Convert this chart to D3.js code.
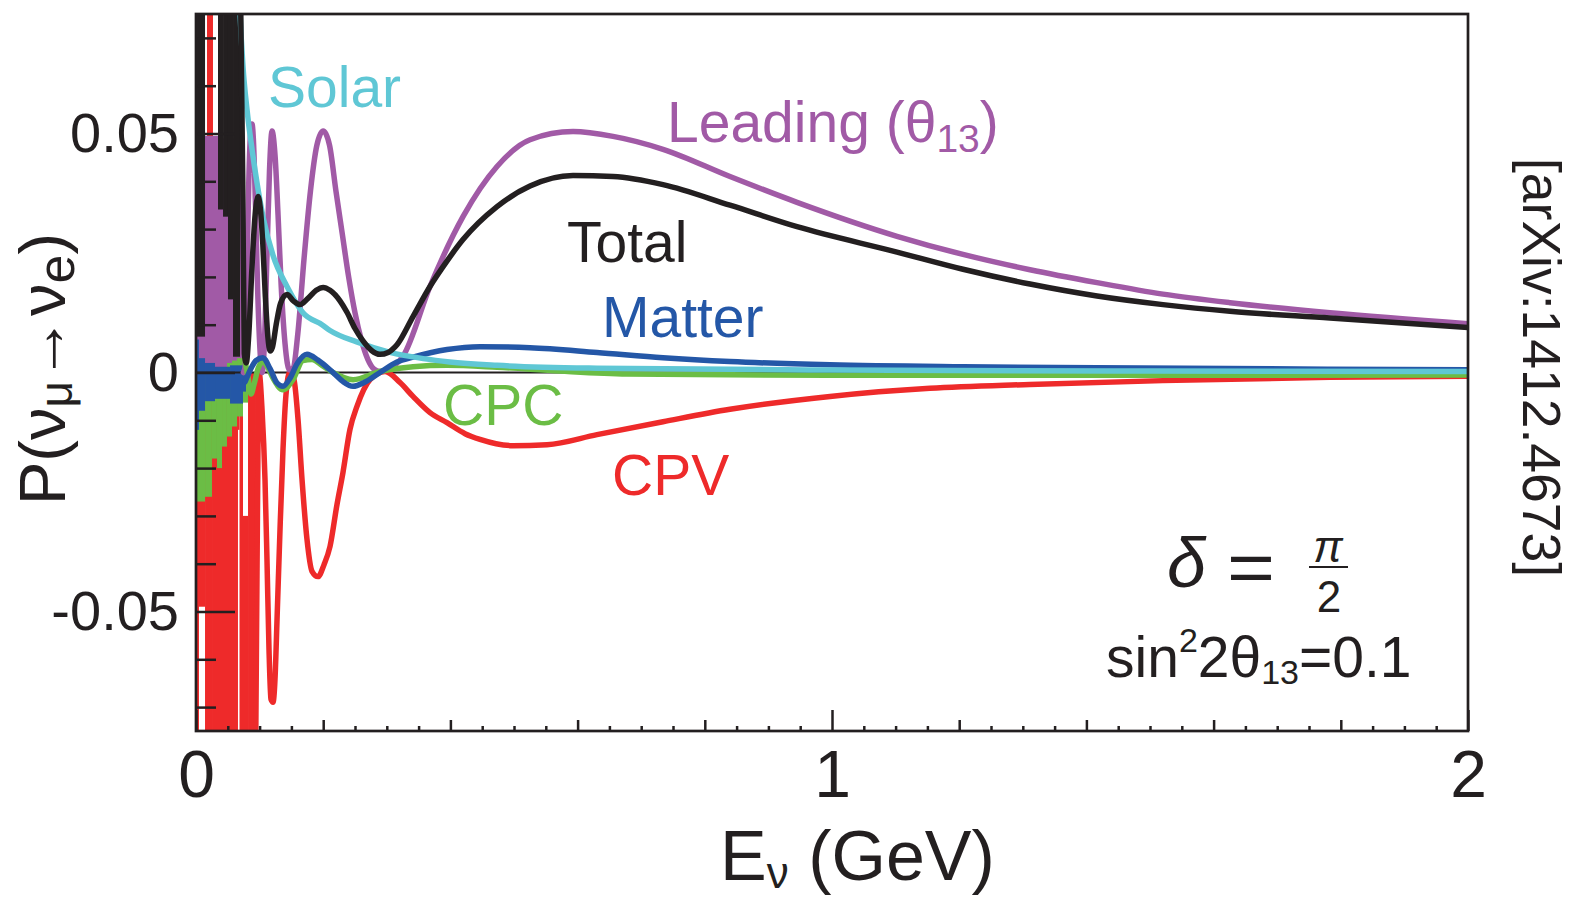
<!DOCTYPE html>
<html>
<head>
<meta charset="utf-8">
<script src="https://cdn.jsdelivr.net/npm/d3@7"></script>
<style>
  html, body { margin: 0; padding: 0; background: #fff; }
  svg { display: block; }
  text { font-family: "Liberation Sans", Arial, Helvetica, sans-serif; fill: #231f20; }
</style>
</head>
<body>
<svg id="chart" width="1572" height="900"></svg>
<script>
// ── data: [E (GeV), P] ──────────────────────────────────────────────
const leadingLine = [
  [0.0745, 0.000], [0.0770, 0.001], [0.0800, 0.020], [0.0830, 0.040], [0.0860, 0.0505],
  [0.0880, 0.052], [0.0905, 0.048], [0.0935, 0.035], [0.0970, 0.017], [0.1005, 0.005],
  [0.1040, 0.000], [0.1075, 0.006], [0.1115, 0.024], [0.1155, 0.042], [0.1195, 0.0505],
  [0.1245, 0.045], [0.1290, 0.033], [0.1340, 0.018], [0.1400, 0.006], [0.1470, 0.0005],
  [0.1530, 0.001], [0.1600, 0.008], [0.1700, 0.024], [0.1800, 0.038], [0.1900, 0.0475],
  [0.2000, 0.0505], [0.2100, 0.0475], [0.2200, 0.038], [0.2300, 0.029], [0.2400, 0.020],
  [0.2500, 0.0125], [0.2600, 0.0068], [0.2700, 0.0028], [0.2800, 0.0007], [0.2893, 0.0002],
  [0.3000, 0.0006], [0.3255, 0.0034], [0.3679, 0.0180], [0.4198, 0.0326], [0.4733, 0.0431],
  [0.5252, 0.0487], [0.5928, 0.0504], [0.6557, 0.0494], [0.7343, 0.0467], [0.8396, 0.0410],
  [0.9450, 0.0356], [1.1022, 0.0285], [1.2060, 0.0247], [1.3113, 0.0215], [1.4167, 0.0188],
  [1.5204, 0.0164], [1.6258, 0.0146], [1.7830, 0.0125], [2.0000, 0.0102]
];
const totalLine = [
  [0.0700, 0.080], [0.0735, 0.040], [0.0760, 0.004], [0.0790, 0.002], [0.0830, 0.008],
  [0.0880, 0.022], [0.0930, 0.033], [0.0975, 0.0368], [0.1010, 0.0345], [0.1050, 0.027],
  [0.1090, 0.016], [0.1130, 0.0075], [0.1165, 0.0045], [0.1200, 0.0052], [0.1260, 0.0100],
  [0.1330, 0.0145], [0.1431, 0.0163], [0.1530, 0.0150], [0.1635, 0.0142], [0.1760, 0.0155],
  [0.1890, 0.0172], [0.2000, 0.0178], [0.2107, 0.0172], [0.2264, 0.0150], [0.2374, 0.0126],
  [0.2500, 0.0092], [0.2626, 0.0066], [0.2760, 0.0046], [0.2893, 0.0038], [0.3020, 0.0042],
  [0.3160, 0.0058], [0.3412, 0.0117], [0.3679, 0.0180], [0.3940, 0.0232], [0.4198, 0.0278],
  [0.4733, 0.0347], [0.5252, 0.0390], [0.5928, 0.0412], [0.6557, 0.0410], [0.7343, 0.0393],
  [0.8396, 0.0350], [0.9450, 0.0305], [1.1022, 0.0252], [1.2060, 0.0216], [1.3113, 0.0185],
  [1.4167, 0.0160], [1.5204, 0.0142], [1.6258, 0.0128], [1.7830, 0.0114], [2.0000, 0.0094]
];
const solarLine = [
  [0.0680, 0.080], [0.0692, 0.0755], [0.0739, 0.064], [0.0802, 0.055], [0.0881, 0.0467],
  [0.0959, 0.0397], [0.1053, 0.0326], [0.1211, 0.0245], [0.1431, 0.0180], [0.1682, 0.0125],
  [0.1981, 0.0100], [0.2107, 0.0088], [0.2527, 0.0064], [0.3050, 0.0042], [0.3574, 0.0029],
  [0.3990, 0.0022], [0.4733, 0.0015], [0.6305, 0.0009], [0.9969, 0.0005], [1.5000, 0.0003],
  [2.0000, 0.0002]
];
const matterLine = [
  [0.0770, -0.002], [0.0818, -0.0005], [0.0870, 0.001], [0.0943, 0.0025], [0.1053, 0.0031],
  [0.1164, 0.0008], [0.1274, -0.0022], [0.1368, -0.0029], [0.1478, -0.0012], [0.1588, 0.0018],
  [0.1745, 0.0038], [0.1918, 0.0026], [0.2154, 0.0000], [0.2311, -0.0019], [0.2469, -0.0029],
  [0.2657, -0.0020], [0.2893, 0.0000], [0.3160, 0.0022], [0.3412, 0.0032], [0.3947, 0.0048],
  [0.4465, 0.0054], [0.5252, 0.0052], [0.6305, 0.0042], [0.7343, 0.0031], [0.8396, 0.0023],
  [0.9969, 0.0016], [1.2060, 0.0012], [1.4167, 0.0010], [1.7830, 0.0007], [2.0000, 0.0006]
];
const cpcLine = [
  [0.0770, 0.0025], [0.0818, -0.001], [0.0865, -0.0045], [0.0912, -0.0025], [0.0975, 0.0008],
  [0.1053, 0.0023], [0.1132, 0.0010], [0.1211, -0.0012], [0.1368, -0.0036], [0.1525, -0.0015],
  [0.1682, 0.0025], [0.1824, 0.0027], [0.1981, 0.0015], [0.2154, 0.0000], [0.2469, -0.0015],
  [0.2893, 0.0002], [0.3412, 0.0012], [0.3947, 0.0015], [0.4733, 0.0011], [0.5723, 0.0003],
  [0.6777, -0.0003], [0.9969, -0.0006], [1.5000, -0.0006], [2.0000, -0.0005]
];
const cpvLine = [
  [0.0935, -0.085], [0.0966, -0.030], [0.0990, 0.0002], [0.1038, -0.0077], [0.1085, -0.0224],
  [0.1116, -0.0391], [0.1148, -0.0580], [0.1179, -0.0684], [0.1211, -0.0690], [0.1242, -0.0642],
  [0.1274, -0.0517], [0.1321, -0.0328], [0.1368, -0.0161], [0.1415, -0.0046], [0.1478, 0.0002],
  [0.1541, -0.0015], [0.1604, -0.0098], [0.1667, -0.0224], [0.1745, -0.0349], [0.1824, -0.0416],
  [0.1918, -0.0427], [0.2013, -0.0402], [0.2107, -0.0364], [0.2217, -0.0276], [0.2311, -0.0209],
  [0.2421, -0.0119], [0.2531, -0.0071], [0.2736, -0.0015], [0.2972, 0.0002], [0.3208, -0.0021],
  [0.3412, -0.0050], [0.3679, -0.0084], [0.3947, -0.0105], [0.4230, -0.0128], [0.4465, -0.0140],
  [0.4984, -0.0153], [0.5519, -0.0151], [0.6305, -0.0130], [0.7343, -0.0103], [0.8396, -0.0077],
  [0.9969, -0.0050], [1.1540, -0.0033], [1.3110, -0.0025], [1.5200, -0.0017], [1.7830, -0.0010],
  [2.0000, -0.0008]
];

// low-energy region: fast oscillations drawn as solid blocks, [E0, E1, Plo, Phi]
const cpvCols = [
  [0.0016, 0.0047, -0.08, 0], [0.0047, 0.0142, -0.049, 0], [0.0142, 0.0173, -0.08, 0],
  [0.0173, 0.0267, -0.08, 0.08], [0.0267, 0.0660, -0.08, 0], [0.0660, 0.0684, -0.012, 0],
  [0.0684, 0.0739, -0.08, 0], [0.0739, 0.0818, -0.08, -0.03], [0.0739, 0.0818, -0.004, 0],
  [0.0818, 0.0943, -0.08, 0]
];
const leadingCols = [
  [0.0000, 0.0047, 0, 0.043], [0.0047, 0.0346, 0, 0.0495], [0.0346, 0.0660, 0, 0.049],
  [0.0660, 0.0739, 0, 0.045]
];
const cpcCols = [
  [0.0016, 0.0142, -0.027, 0], [0.0142, 0.0251, -0.026, 0], [0.0251, 0.0330, -0.018, 0],
  [0.0330, 0.0409, -0.020, 0], [0.0409, 0.0487, -0.0155, 0.001], [0.0487, 0.0566, -0.0134, 0.002],
  [0.0566, 0.0645, -0.0113, 0.0025], [0.0645, 0.0739, -0.0092, 0.003], [0.0739, 0.0818, -0.0063, 0.0033]
];
const matterCols = [
  [0.0000, 0.0047, -0.012, 0.0069], [0.0047, 0.0142, -0.008, 0.003], [0.0142, 0.0299, -0.006, 0.002],
  [0.0299, 0.0535, -0.0055, 0.0012], [0.0535, 0.0739, -0.0065, 0.0015], [0.0739, 0.0786, -0.004, 0.001]
];
const solarCols = [];
const totalCols = [
  [0.0016, 0.0142, 0.0075, 0.08], [0.0346, 0.0425, 0.0341, 0.08], [0.0425, 0.0503, 0.0326, 0.08],
  [0.0503, 0.0582, 0.0153, 0.08], [0.0582, 0.0692, 0.0033, 0.08]
];

const xMajorTicks = [0, 1, 2];
const xMajorLabels = ["0", "1", "2"];
const xMidTicks = [0.2, 0.4, 0.6, 0.8, 1.2, 1.4, 1.6, 1.8];
const xMinorTicks = d3.range(1, 40).map(i => i * 0.05).filter(v => Math.abs(v * 5 - Math.round(v * 5)) > 1e-6);
const yMajorTicks = [-0.05, 0, 0.05];
const yMajorLabels = ["-0.05", "0", "0.05"];
const yMinorTicks = [-0.07, -0.06, -0.04, -0.03, -0.02, -0.01, 0.01, 0.02, 0.03, 0.04, 0.06, 0.07];

const COLORS = {
  cpv: "#ee2a2a", leading: "#a15aa6", cpc: "#6bbd45",
  matter: "#2457a7", solar: "#5fc7d5", total: "#231f20"
};
const INK = "#231f20";

// ── scales ──────────────────────────────────────────────────────────
const x = d3.scaleLinear().domain([0, 2]).range([196, 1468]);
const y = d3.scaleLinear().domain([-0.075, 0.075]).range([731, 14]);
const [xL, xR] = x.range(), [yB, yT] = y.range();

const svg = d3.select("#chart");
svg.append("defs").append("clipPath").attr("id", "plotclip")
  .append("rect").attr("x", xL).attr("y", yT).attr("width", xR - xL).attr("height", yB - yT);

const plot = svg.append("g").attr("clip-path", "url(#plotclip)");

// drawing order = layering in the reference
const series = [
  { cols: cpvCols,     line: cpvLine,     color: COLORS.cpv },
  { cols: leadingCols, line: leadingLine, color: COLORS.leading },
  { cols: cpcCols,     line: cpcLine,     color: COLORS.cpc },
  { cols: matterCols,  line: matterLine,  color: COLORS.matter },
  { cols: solarCols,   line: solarLine,   color: COLORS.solar },
  { cols: totalCols,   line: totalLine,   color: COLORS.total }
];

series.forEach(s => {
  plot.append("g").selectAll("rect").data(s.cols).join("rect")
    .attr("x", d => x(d[0])).attr("width", d => x(d[1]) - x(d[0]))
    .attr("y", d => y(d[3])).attr("height", d => y(d[2]) - y(d[3]))
    .attr("fill", s.color);
});

// zero line
plot.append("line")
  .attr("x1", xL).attr("x2", xR).attr("y1", y(0)).attr("y2", y(0))
  .attr("stroke", INK).attr("stroke-width", 2.2);

const lineGen = d3.line().x(d => x(d[0])).y(d => y(d[1])).curve(d3.curveMonotoneX);
series.forEach(s => {
  plot.append("path").datum(s.line).attr("d", lineGen)
    .attr("fill", "none").attr("stroke", s.color).attr("stroke-width", 5.5)
    .attr("stroke-linejoin", "round").attr("stroke-linecap", "round");
});

// ── axes (ticks point inward, ROOT style) ───────────────────────────
function styleAxis(sel) {
  sel.select(".domain").remove();
  sel.selectAll("line").attr("stroke", INK).attr("stroke-width", 2.5);
  sel.selectAll("text").attr("fill", INK).attr("font-family", '"Liberation Sans", Arial, sans-serif');
}
svg.append("g").attr("transform", `translate(${xL},0)`)
  .call(d3.axisLeft(y).tickValues(yMinorTicks).tickSize(-20).tickFormat(""))
  .call(styleAxis);
svg.append("g").attr("transform", `translate(${xL},0)`)
  .call(d3.axisLeft(y).tickValues(yMajorTicks).tickSize(-39).tickPadding(17)
    .tickFormat((d, i) => yMajorLabels[i]))
  .call(styleAxis)
  .selectAll("text").attr("font-size", 56);

svg.append("g").attr("transform", `translate(0,${yB})`)
  .call(d3.axisBottom(x).tickValues(xMinorTicks).tickSize(-5).tickFormat(""))
  .call(styleAxis);
svg.append("g").attr("transform", `translate(0,${yB})`)
  .call(d3.axisBottom(x).tickValues(xMidTicks).tickSize(-11).tickFormat(""))
  .call(styleAxis);
svg.append("g").attr("transform", `translate(0,${yB})`)
  .call(d3.axisBottom(x).tickValues(xMajorTicks).tickSize(-21).tickPadding(19)
    .tickFormat((d, i) => xMajorLabels[i]))
  .call(styleAxis)
  .selectAll("text").attr("font-size", 66);

// frame
svg.append("rect").attr("x", xL).attr("y", yT).attr("width", xR - xL).attr("height", yB - yT)
  .attr("fill", "none").attr("stroke", INK).attr("stroke-width", 2.7);

// ── axis titles ─────────────────────────────────────────────────────
const xt = svg.append("text").attr("x", 720).attr("y", 880).attr("font-size", 70);
xt.append("tspan").text("E");
xt.append("tspan").attr("font-size", 44).attr("dy", 8).text("ν");
xt.append("tspan").attr("dy", -8).text(" (GeV)");

const yt = svg.append("text").attr("transform", "translate(65,505) rotate(-90)").attr("font-size", 65);
yt.append("tspan").text("P(ν");
yt.append("tspan").attr("font-size", 46).attr("dy", 7).text("μ");
yt.append("tspan").attr("dy", -7).text("→ν");
yt.append("tspan").attr("font-size", 52).attr("dy", 9).text("e");
yt.append("tspan").attr("dy", -9).text(")");

// ── curve labels ────────────────────────────────────────────────────
const LABEL_FS = 57;
svg.append("text").attr("x", 268).attr("y", 107).attr("font-size", LABEL_FS)
  .style("fill", COLORS.solar).text("Solar");
const lead = svg.append("text").attr("x", 667).attr("y", 142).attr("font-size", LABEL_FS)
  .style("fill", COLORS.leading);
lead.append("tspan").text("Leading (θ");
lead.append("tspan").attr("font-size", 39).attr("dy", 10).text("13");
lead.append("tspan").attr("dy", -10).text(")");
svg.append("text").attr("x", 567).attr("y", 262).attr("font-size", LABEL_FS)
  .style("fill", COLORS.total).text("Total");
svg.append("text").attr("x", 602).attr("y", 337).attr("font-size", LABEL_FS)
  .style("fill", COLORS.matter).text("Matter");
svg.append("text").attr("x", 443).attr("y", 425).attr("font-size", LABEL_FS)
  .style("fill", COLORS.cpc).text("CPC");
svg.append("text").attr("x", 612).attr("y", 495).attr("font-size", LABEL_FS)
  .style("fill", COLORS.cpv).text("CPV");

// δ = π/2  (LaTeX look)
const serif = '"Liberation Serif", "DejaVu Serif", serif';
svg.append("text").attr("x", 1167).attr("y", 587).attr("font-size", 70)
  .attr("font-family", serif).attr("font-style", "italic").text("δ");
svg.append("text").attr("x", 1227).attr("y", 592).attr("font-size", 72)
  .attr("font-family", serif).attr("textLength", 48).attr("lengthAdjust", "spacingAndGlyphs").text("=");
svg.append("text").attr("x", 1328).attr("y", 562).attr("font-size", 44).attr("text-anchor", "middle")
  .attr("font-family", serif).attr("font-style", "italic").text("π");
svg.append("line").attr("x1", 1309).attr("x2", 1348).attr("y1", 567).attr("y2", 567)
  .attr("stroke", INK).attr("stroke-width", 2);
svg.append("text").attr("x", 1329).attr("y", 612).attr("font-size", 44).attr("text-anchor", "middle")
  .attr("font-family", serif).text("2");

const sinT = svg.append("text").attr("x", 1106).attr("y", 677).attr("font-size", 57);
sinT.append("tspan").text("sin");
sinT.append("tspan").attr("font-size", 34).attr("dy", -25).text("2");
sinT.append("tspan").attr("dy", 25).text("2θ");
sinT.append("tspan").attr("font-size", 34).attr("dy", 7).text("13");
sinT.append("tspan").attr("dy", -7).text("=0.1");

// arXiv stamp
svg.append("text").attr("transform", "translate(1523,158) rotate(90)")
  .attr("font-family", "Lato, 'Open Sans', sans-serif").attr("font-size", 54)
  .attr("textLength", 419).attr("lengthAdjust", "spacingAndGlyphs")
  .text("[arXiv:1412.4673]");
</script>
</body>
</html>
